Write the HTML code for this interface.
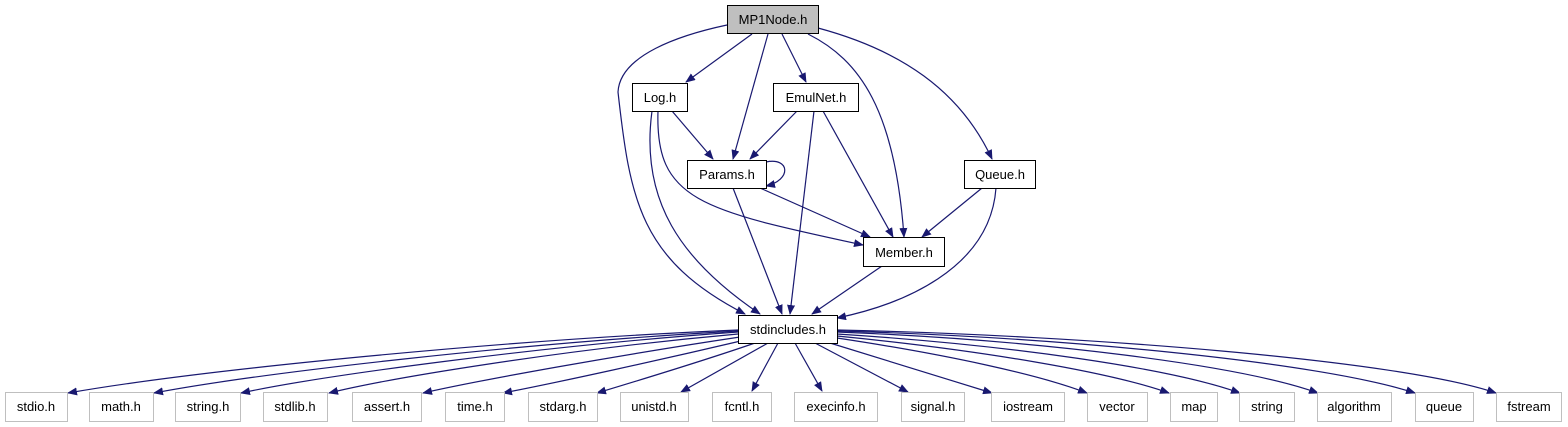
<!DOCTYPE html>
<html><head><meta charset="utf-8"><style>
html,body{margin:0;padding:0;background:#fff;}
svg{display:block;}
text{font-family:"Liberation Sans",Arial,sans-serif;font-size:13px;text-anchor:middle;}
</style></head><body>
<svg width="1568" height="427" viewBox="0 0 1568 427" xmlns="http://www.w3.org/2000/svg">
<defs><marker id="a" markerWidth="10" markerHeight="8" refX="9" refY="4" orient="auto" markerUnits="userSpaceOnUse"><path d="M0,0 L10,4 L0,8 z" fill="#191970"/></marker></defs>
<g fill="none" stroke="#191970" stroke-width="1.2" marker-end="url(#a)">
<path d="M752,34 L686,82"/>
<path d="M768,34 L733,159"/>
<path d="M782,34 L806,82"/>
<path d="M808,34 C860,60 895,110 904,237"/>
<path d="M818,28 C900,50 960,90 992,159"/>
<path d="M727,25 C680,35 620,55 618,92 C630,200 640,260 745,314"/>
<path d="M672,111 L713,159"/>
<path d="M652,111 C640,200 680,260 760,314"/>
<path d="M658,111 C655,200 700,210 863,245"/>
<path d="M797,111 L750,159"/>
<path d="M814,111 L790,314"/>
<path d="M823,111 L893,237"/>
<path d="M766,162 C790,157 792,180 766,186"/>
<path d="M733,188 L782,314"/>
<path d="M760,188 L870,237"/>
<path d="M982,188 L922,237"/>
<path d="M996,188 C990,270 900,305 837,318"/>
<path d="M882,266 L812,314"/>
<path d="M738,330 C500,340 200,370 68,393"/>
<path d="M738,331 C520,343 260,373 154,393"/>
<path d="M738,332 C540,346 320,376 241,393"/>
<path d="M738,334 C560,350 390,378 329,393"/>
<path d="M740,337 C620,355 480,380 423,393"/>
<path d="M745,340 C660,360 560,382 503,393"/>
<path d="M755,343 C700,362 640,380 597,393"/>
<path d="M768,343 L681,392"/>
<path d="M778,343 L752,391"/>
<path d="M795,343 L822,391"/>
<path d="M815,343 L908,392"/>
<path d="M830,343 L992,393"/>
<path d="M837,338 C950,355 1040,375 1087,393"/>
<path d="M837,336 C980,350 1110,372 1169,393"/>
<path d="M837,334 C1010,345 1170,368 1240,393"/>
<path d="M837,332 C1040,340 1240,365 1318,393"/>
<path d="M837,331 C1060,337 1320,362 1415,393"/>
<path d="M837,330 C1080,335 1400,360 1496,393"/>
</g>
<g stroke-width="1">
<rect x="727.5" y="5.5" width="91" height="28" fill="#bfbfbf" stroke="#000"/>
<rect x="632.5" y="83.5" width="55" height="28" fill="#fff" stroke="#000"/>
<rect x="773.5" y="83.5" width="85" height="28" fill="#fff" stroke="#000"/>
<rect x="687.5" y="160.5" width="79" height="28" fill="#fff" stroke="#000"/>
<rect x="964.5" y="160.5" width="71" height="28" fill="#fff" stroke="#000"/>
<rect x="863.5" y="237.5" width="81" height="29" fill="#fff" stroke="#000"/>
<rect x="738.5" y="315.5" width="99" height="28" fill="#fff" stroke="#000"/>
</g>
<g fill="#000">
<text x="773" y="24">MP1Node.h</text>
<text x="660" y="102">Log.h</text>
<text x="816" y="102">EmulNet.h</text>
<text x="727" y="179">Params.h</text>
<text x="1000" y="179">Queue.h</text>
<text x="904" y="257">Member.h</text>
<text x="788" y="334">stdincludes.h</text>
</g>
<g fill="#fff" stroke="#bfbfbf" stroke-width="1">
<rect x="5.5" y="392.5" width="62" height="29"/>
<rect x="89.5" y="392.5" width="64" height="29"/>
<rect x="175.5" y="392.5" width="65" height="29"/>
<rect x="263.5" y="392.5" width="64" height="29"/>
<rect x="352.5" y="392.5" width="69" height="29"/>
<rect x="445.5" y="392.5" width="59" height="29"/>
<rect x="528.5" y="392.5" width="69" height="29"/>
<rect x="620.5" y="392.5" width="68" height="29"/>
<rect x="712.5" y="392.5" width="59" height="29"/>
<rect x="794.5" y="392.5" width="83" height="29"/>
<rect x="901.5" y="392.5" width="63" height="29"/>
<rect x="991.5" y="392.5" width="73" height="29"/>
<rect x="1087.5" y="392.5" width="60" height="29"/>
<rect x="1170.5" y="392.5" width="47" height="29"/>
<rect x="1239.5" y="392.5" width="55" height="29"/>
<rect x="1317.5" y="392.5" width="74" height="29"/>
<rect x="1415.5" y="392.5" width="58" height="29"/>
<rect x="1496.5" y="392.5" width="65" height="29"/>
</g>
<g fill="#000">
<text x="36" y="411">stdio.h</text>
<text x="121" y="411">math.h</text>
<text x="208" y="411">string.h</text>
<text x="295" y="411">stdlib.h</text>
<text x="387" y="411">assert.h</text>
<text x="475" y="411">time.h</text>
<text x="563" y="411">stdarg.h</text>
<text x="654" y="411">unistd.h</text>
<text x="742" y="411">fcntl.h</text>
<text x="836" y="411">execinfo.h</text>
<text x="933" y="411">signal.h</text>
<text x="1028" y="411">iostream</text>
<text x="1117" y="411">vector</text>
<text x="1194" y="411">map</text>
<text x="1267" y="411">string</text>
<text x="1354" y="411">algorithm</text>
<text x="1444" y="411">queue</text>
<text x="1529" y="411">fstream</text>
</g>
</svg>
</body></html>
